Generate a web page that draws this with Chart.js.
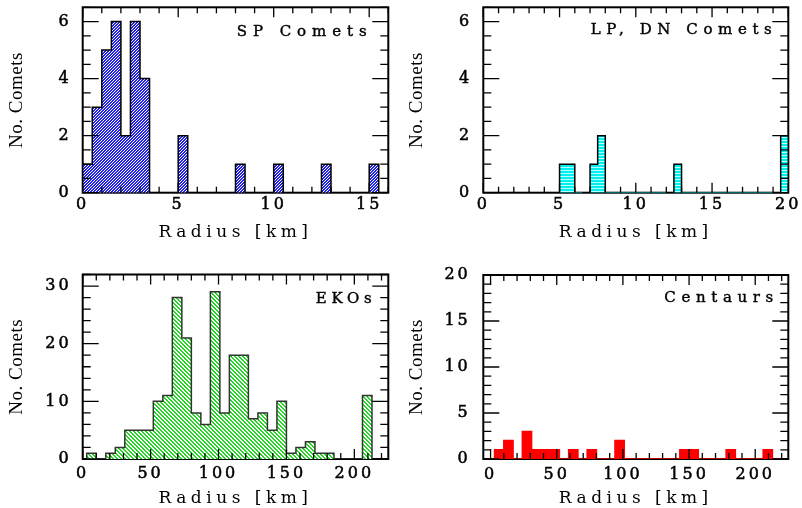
<!DOCTYPE html>
<html><head><meta charset="utf-8">
<script src="https://cdn.jsdelivr.net/npm/chart.js@4.4.0/dist/chart.umd.min.js"></script>
<style>
html,body{margin:0;padding:0;background:#fff;}
#wrap{position:relative;width:802px;height:508px;overflow:hidden;background:#fff;}
.panel{position:absolute;width:401px;height:254px;}
canvas{display:block;}
</style></head><body>
<div id="wrap">
<div class="panel" style="left:0;top:0"><canvas id="c1" width="401" height="254" style="width:401px;height:254px"></canvas></div>
<div class="panel" style="left:401px;top:0"><canvas id="c2" width="401" height="254" style="width:401px;height:254px"></canvas></div>
<div class="panel" style="left:0;top:254px"><canvas id="c3" width="401" height="254" style="width:401px;height:254px"></canvas></div>
<div class="panel" style="left:401px;top:254px"><canvas id="c4" width="401" height="254" style="width:401px;height:254px"></canvas></div>
</div>
<script>
// ---------- DATA ----------
// SP Comets: bin edges [km] and counts
const spEdges  = [0,0.5,1,1.5,2,2.5,3,3.5,4,4.5,5,5.5,6,6.5,7,7.5,8,8.5,9,9.5,10,10.5,11,11.5,12,12.5,13,13.5,14,14.5,15,15.5];
const spCounts = [1,3,5,6,2,6,4,0,0,0,2,0,0,0,0,0,1,0,0,0,1,0,0,0,0,1,0,0,0,0,1];
const spXTicks = [0,5,10,15];
const spYTicks = [0,2,4,6];

// LP, DN Comets
const lpEdges  = [5,5.5,6,6.5,7,7.5,8,8.5,9,9.5,10,10.5,11,11.5,12,12.5,13,13.5,14,14.5,15,15.5,16,16.5,17,17.5,18,18.5,19,19.5,20];
const lpCounts = [1,1,0,0,1,2,0,0,0,0,0,0,0,0,0,1,0,0,0,0,0,0,0,0,0,0,0,0,0,2];
const lpXTicks = [0,5,10,15,20];
const lpYTicks = [0,2,4,6];

// EKOs
const ekoEdges  = [3,10,17,24,31,38,45,52,59,66,73,80,87,94,101,108,115,122,129,136,143,150,157,164,171,178,185,192,199,206,213];
const ekoCounts = [1,0,1,2,5,5,5,10,11,28,21,8,6,29,8,18,18,7,8,5,10,1,2,3,1,1,0,0,0,11];
const ekoXTicks = [0,50,100,150,200];
const ekoYTicks = [0,10,20,30];

// Centaurs
const cenEdges  = [-4,3,10,17,24,31,38,45,52,59,66,73,80,87,94,101,108,115,122,129,136,143,150,157,164,171,178,185,192,199,206,213,220];
const cenCounts = [0,1,2,0,3,1,1,1,0,1,0,1,0,0,2,0,0,0,0,0,0,1,1,0,0,0,1,0,0,0,1,0];
const cenXTicks = [0,50,100,150,200];
const cenYTicks = [0,5,10,15,20];

// ---------- helpers ----------
Chart.defaults.color = '#000';
const TICK_FONT = {family:'DejaVu Serif', size:16};
const XT_FONT = {family:'DejaVu Serif', size:17, lineHeight:1};
const YT_FONT = {family:'Liberation Serif', size:19};
const TICK_LS = '3px', XT_LS = '4.5px', YT_LS = '0.5px';

function histPoints(edges, counts){
  const pts = [{x:edges[0], y:0}];
  for (let i=0;i<counts.length;i++) pts.push({x:edges[i], y:counts[i]});
  pts.push({x:edges[edges.length-1], y:0});
  return pts;
}
function hatch(kind, fg, bg, size, thick){
  const c = document.createElement('canvas'); c.width = c.height = size;
  const g = c.getContext('2d');
  g.fillStyle = bg; g.fillRect(0,0,size,size);
  g.fillStyle = fg;
  for (let i=0;i<size;i++){
    for (let t=0;t<thick;t++){
      if (kind==='/') g.fillRect((i+t)%size, size-1-i, 1, 1);
      else if (kind==='\\') g.fillRect((i+t)%size, i, 1, 1);
    }
  }
  if (kind==='-'){ g.fillStyle = fg; g.fillRect(0,0,size,thick); }
  return c;
}

const patchPlugin = {
  id:'patch',
  afterLayout(chart){
    for (const s of Object.values(chart.scales)){
      if (s._patched) continue; s._patched = true;
      const oT = s.drawTitle, oL = s.drawLabels;
      s.drawTitle = function(...a){ const c=this.ctx; c.save(); c.letterSpacing = this.isHorizontal()?XT_LS:YT_LS; oT.apply(this,a); c.restore(); };
      s.drawLabels = function(...a){ const c=this.ctx; c.save(); c.letterSpacing = TICK_LS; oL.apply(this,a); c.restore(); };
    }
  }
};
const framePlugin = {
  id:'frame',
  beforeDatasetsDraw(chart){
    const {ctx, chartArea:a} = chart;
    ctx.save(); ctx.strokeStyle='#000'; ctx.lineWidth=2;
    ctx.strokeRect(a.left, a.top, a.right-a.left, a.bottom-a.top);
    ctx.restore();
  },
  afterDraw(chart, args, o){
    const {ctx, chartArea:a, scales:{x,y}} = chart;
    ctx.save(); ctx.strokeStyle='#000'; ctx.lineWidth=1.3;
    ctx.beginPath();
    const eps=1e-6;
    for (let v=o.xMinorStart; v<=x.max+eps; v+=o.xMinor){
      const major = Math.abs(v/o.xMajor - Math.round(v/o.xMajor))<1e-6;
      const L = major?o.xMajLen:o.xMinLen;
      const px = x.getPixelForValue(v);
      if (px < a.left-0.5 || px > a.right+0.5) continue;
      ctx.moveTo(px, a.bottom); ctx.lineTo(px, a.bottom-L);
      ctx.moveTo(px, a.top); ctx.lineTo(px, a.top+L);
    }
    for (let v=0; v<=y.max+eps; v+=o.yMinor){
      const major = Math.abs(v/o.yMajor - Math.round(v/o.yMajor))<1e-6;
      const L = major?o.yMajLen:o.yMinLen;
      const py = y.getPixelForValue(v);
      ctx.moveTo(a.left, py); ctx.lineTo(a.left+L, py);
      ctx.moveTo(a.right, py); ctx.lineTo(a.right-L, py);
    }
    ctx.stroke();
    // panel label
    ctx.fillStyle='#000'; ctx.strokeStyle='#000'; ctx.lineWidth=0.4;
    ctx.font = '15px "DejaVu Serif"';
    ctx.textBaseline='middle'; ctx.textAlign='left';
    const plain = ctx.measureText(o.label).width;
    const n = o.label.length;
    ctx.letterSpacing = ((o.labelW - plain)/(n-1)).toFixed(2)+'px';
    ctx.fillText(o.label, o.labelX, o.labelY);
    ctx.strokeText(o.label, o.labelX, o.labelY);
    ctx.restore();
  }
};

function makePanel(id, p){
  const cv = document.getElementById(id);
  const pat = cv.getContext('2d').createPattern(p.pattern,'repeat');
  const ds = {
    data: histPoints(p.edges, p.counts),
    stepped: 'before', fill: 'origin',
    backgroundColor: pat, borderColor: p.border, borderWidth: 1.5,
    pointRadius: 0, tension: 0
  };
  if (p.baseColor) ds.segment = { borderColor: c => (c.p0.parsed.y===0 && c.p1.parsed.y===0) ? p.baseColor : p.border };
  new Chart(cv, {
    type:'line',
    data:{ datasets:[ds] },
    options:{
      responsive:false, animation:false, events:[],
      layout:{ padding:{ left:0, top:p.area.top, right:401-p.area.right, bottom:0 } },
      plugins:{ legend:{display:false}, tooltip:{enabled:false},
        frame:{ xMinor:p.xMinor, xMinorStart:p.xMinorStart, xMajor:p.xMajor, yMinor:p.yMinor, yMajor:p.yMajor,
                xMajLen:10, xMinLen:6, yMajLen:16, yMinLen:8,
                label:p.label, labelX:p.labelX, labelY:p.labelY, labelW:p.labelW } },
      scales:{
        x:{ type:'linear', min:p.xMin, max:p.xMax,
            grid:{display:false, drawTicks:false}, border:{display:false},
            ticks:{ font:TICK_FONT, color:'#000', padding:p.xPad, maxRotation:0, autoSkip:false,
                    textStrokeColor:'#000', textStrokeWidth:0.5 },
            afterBuildTicks: s => { s.ticks = p.xTicks.map(v=>({value:v})); },
            afterFit: s => { s.height = 254 - p.area.bottom; s.paddingLeft = 0; s.paddingRight = 0; },
            title:{ display:true, text:'Radius [km]', font:XT_FONT, color:'#000', padding:{top:0,bottom:p.xtPad} } },
        y:{ type:'linear', min:0, max:p.yMax,
            grid:{display:false, drawTicks:false}, border:{display:false},
            ticks:{ font:TICK_FONT, color:'#000', padding:p.yPad, textStrokeColor:'#000', textStrokeWidth:0.5 },
            afterBuildTicks: s => { s.ticks = p.yTicks.map(v=>({value:v})); },
            afterFit: s => { s.width = p.area.left; s.paddingTop = 0; s.paddingBottom = 0; },
            title:{ display:true, text:'No. Comets', font:YT_FONT, color:'#000', padding:{top:p.ytPad,bottom:0} } }
      }
    },
    plugins:[patchPlugin, framePlugin]
  });
}

makePanel('c1', { edges:spEdges, counts:spCounts, xTicks:spXTicks, yTicks:spYTicks,
  xMin:0, xMax:16, yMax:6.5, xMinor:1, xMinorStart:0, xMajor:5, yMinor:0.5, yMajor:2,
  area:{left:82.7, right:388.3, top:7.3, bottom:192.7},
  pattern: hatch('/', '#2020e6', '#ffffff', 3, 2), border:'#000',
  xPad:2.5, yPad:11, xtPad:12.5, ytPad:6,
  label:'SP Comets', labelX:236.7, labelY:32.5, labelW:130 });

makePanel('c2', { edges:lpEdges, counts:lpCounts, xTicks:lpXTicks, yTicks:lpYTicks,
  xMin:0, xMax:20, yMax:6.5, xMinor:1, xMinorStart:0, xMajor:5, yMinor:0.5, yMajor:2,
  area:{left:82.3, right:387.3, top:7.3, bottom:192.7},
  pattern: hatch('-', '#00f0f0', '#b8ffff', 3, 2), border:'#000', baseColor:'#008a8a',
  xPad:2.5, yPad:11, xtPad:12.5, ytPad:5,
  label:'LP, DN Comets', labelX:189.7, labelY:29.7, labelW:181 });

makePanel('c3', { edges:ekoEdges, counts:ekoCounts, xTicks:ekoXTicks, yTicks:ekoYTicks,
  xMin:0, xMax:225, yMax:32, xMinor:10, xMinorStart:0, xMajor:50, yMinor:2, yMajor:10,
  area:{left:82.7, right:388.3, top:20.5, bottom:205},
  pattern: hatch('\\', '#22d822', '#ffffff', 4, 2), border:'#333',
  xPad:5.5, yPad:11, xtPad:1, ytPad:6,
  label:'EKOs', labelX:315.7, labelY:45, labelW:56 });

makePanel('c4', { edges:cenEdges, counts:cenCounts, xTicks:cenXTicks, yTicks:cenYTicks,
  xMin:-5.5, xMax:225, yMax:20, xMinor:10, xMinorStart:0, xMajor:50, yMinor:1, yMajor:5,
  area:{left:82.3, right:387.3, top:21, bottom:205},
  pattern: hatch('-', '#ff0000', '#ff0000', 2, 2), border:'#ff0000',
  xPad:6.5, yPad:12.5, xtPad:1, ytPad:5,
  label:'Centaurs', labelX:263.3, labelY:44, labelW:109 });
</script>
</body></html>
